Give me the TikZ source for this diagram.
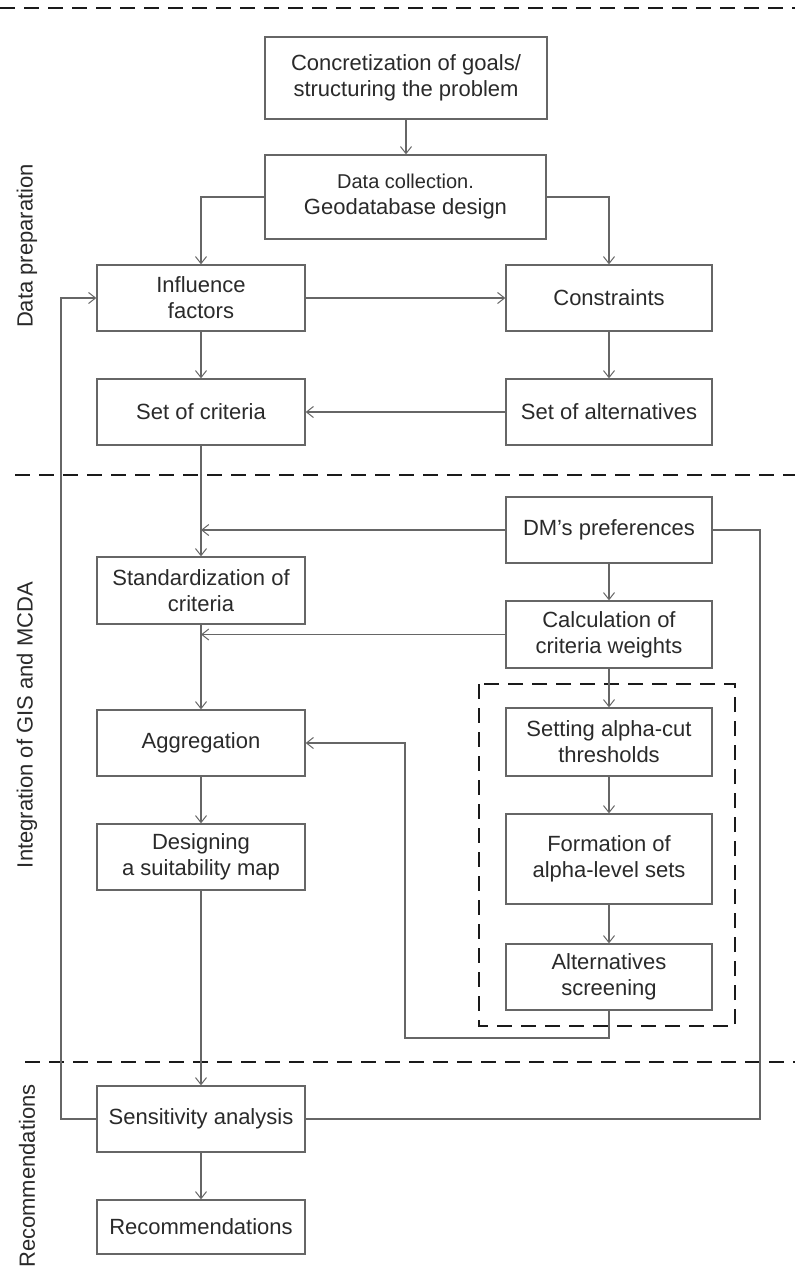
\documentclass[tikz,border=0pt]{standalone}
\usepackage{fontspec}
\setmainfont{Liberation Sans}
\usetikzlibrary{arrows.meta}
\definecolor{boxline}{HTML}{666666}
\definecolor{txt}{HTML}{2A2A2A}
\definecolor{dashc}{HTML}{1A1A1A}
\tikzset{
  box/.style={draw=boxline, line width=1.3pt, rectangle, align=center, text=txt,
    font=\fontsize{22}{26}\selectfont, inner sep=0pt},
  wbox/.style={box, minimum width=208pt},
  rbox/.style={box, minimum width=206pt},
  conn/.style={draw=boxline, line width=1.2pt},
  arr/.style={conn, -{Straight Barb[length=7pt,width=11pt,line width=1pt]}},
  sep/.style={draw=dashc, line width=2pt, dash pattern=on 15pt off 9pt},
  side/.style={rotate=90, text=txt, font=\fontsize{22}{26}\selectfont, inner sep=0pt}
}
\begin{document}
\begin{tikzpicture}[x=1pt,y=-1pt]
\useasboundingbox (0,0) rectangle (795,1278);
\fill[white] (0,0) rectangle (795,1278);

% separators
\draw[sep] (0,8) -- (795,8);
\draw[sep] (15,475) -- (795,475);
\draw[sep] (25,1062) -- (795,1062);
\draw[sep] (479,684) rectangle (735,1026);

% side labels
\node[side] (l1) at (27,246) {Data preparation};
\node[side] (l2) at (27,725) {Integration of GIS and MCDA};
\node[side] (l3) at (27,1176) {Recommendations};

% nodes
\node[box, minimum width=282pt, minimum height=82pt] (goals) at (406,78) {Concretization of goals/\\structuring the problem};
\node[box, minimum width=281pt, minimum height=84pt] (data) at (405.5,197) {{\fontsize{20}{23}\selectfont Data collection.}\\Geodatabase design};
\node[wbox, minimum height=66pt] (infl) at (201,298) {Influence\\factors};
\node[rbox, minimum height=66pt] (cons) at (609,298) {Constraints};
\node[wbox, minimum height=66pt] (crit) at (201,412) {Set of criteria};
\node[rbox, minimum height=66pt] (alts) at (609,412) {Set of alternatives};
\node[rbox, minimum height=66pt] (dm) at (609,530) {DM’s preferences};
\node[wbox, minimum height=67pt] (std) at (201,590.5) {Standardization of\\criteria};
\node[rbox, minimum height=67pt] (calc) at (609,634.5) {Calculation of\\criteria weights};
\node[wbox, minimum height=66pt] (agg) at (201,743) {Aggregation};
\node[rbox, minimum height=68pt] (alpha) at (609,742) {Setting alpha-cut\\thresholds};
\node[wbox, minimum height=66pt] (suit) at (201,857) {Designing\\a suitability map};
\node[rbox, minimum height=90pt] (form) at (609,859) {Formation of\\alpha-level sets};
\node[rbox, minimum height=66pt] (scr) at (609,977) {Alternatives\\screening};
\node[wbox, minimum height=66pt] (sens) at (201,1119) {Sensitivity analysis};
\node[wbox, minimum height=54pt] (rec) at (201,1227) {Recommendations};

% coordinates
\coordinate (dmr) at (760,530);
\coordinate (loopL) at (61,1119);
\coordinate (scrB) at (609,1038);
\coordinate (aggL) at (405,1038);

% connectors
\draw[arr] (goals.south) -- (goals.south |- data.north);
\draw[arr] (data.west) -| (infl.north);
\draw[arr] (data.east) -| (cons.north);
\draw[arr] (infl.east) -- (cons.west);
\draw[arr] (infl.south) -- (crit.north);
\draw[arr] (cons.south) -- (alts.north);
\draw[arr] (alts.west) -- (crit.east);
\draw[arr] (crit.south) -- (std.north);
\draw[arr] (dm.west) -- (dm.west -| crit.south);
\draw[arr] (calc.west) -- (calc.west -| std.south);
\draw[arr] (std.south) -- (agg.north);
\draw[arr] (agg.south) -- (suit.north);
\draw[arr] (suit.south) -- (sens.north);
\draw[arr] (sens.south) -- (rec.north);
\draw[arr] (dm.south) -- (calc.north);
\draw[arr] (calc.south) -- (alpha.north);
\draw[arr] (alpha.south) -- (form.north);
\draw[arr] (form.south) -- (scr.north);
\draw[arr] (scr.south) -- (scrB) -- (aggL) |- (agg.east);
\draw[conn] (dm.east) -- (dmr) |- (sens.east);
\draw[arr] (sens.west) -- (loopL) |- (infl.west);
\end{tikzpicture}
\end{document}
